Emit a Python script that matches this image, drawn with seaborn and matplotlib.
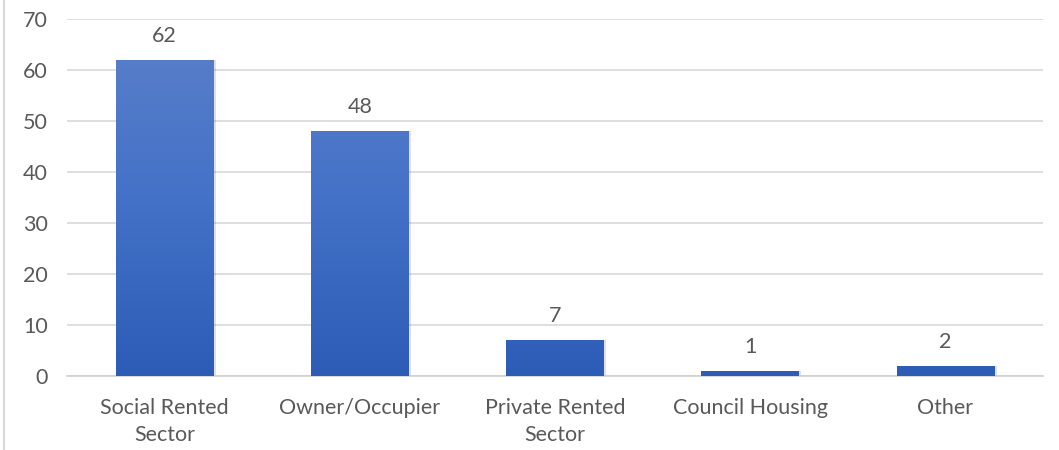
import numpy as np
import matplotlib
matplotlib.use('Agg')
import matplotlib.pyplot as plt
import seaborn as sns
from matplotlib.colors import LinearSegmentedColormap

categories = ['Social Rented\nSector', 'Owner/Occupier', 'Private Rented\nSector', 'Council Housing', 'Other']
values = [62, 48, 7, 1, 2]

sns.set_style('white')
plt.rcParams['font.family'] = ['Lato', 'DejaVu Sans']
text_col = '#595959'
fs = 15.5

fig = plt.figure(figsize=(10.59, 4.5), dpi=100)
ax = fig.add_axes([0.0633, 0.1644, 0.9217, 0.7934])

sns.barplot(x=categories, y=values, color='#4472c4', width=0.5, ax=ax, zorder=3)

ax.set_ylim(0, 70)
ax.set_yticks(range(0, 71, 10))
ax.yaxis.grid(True, color='#d9d9d9', linewidth=1.2, zorder=0)
ax.set_axisbelow(True)
for s in ['left', 'right', 'top']:
    ax.spines[s].set_visible(False)
ax.spines['bottom'].set_color('#d0d0d0')
ax.spines['bottom'].set_linewidth(1.2)
ax.tick_params(axis='both', length=0, labelsize=fs, colors=text_col)
ax.tick_params(axis='y', pad=14)
ax.tick_params(axis='x', pad=16)
for t in ax.get_xticklabels():
    t.set_linespacing(1.45)

# gradient fill clipped to each bar
grad = LinearSegmentedColormap.from_list('g', ['#2c5cb6', '#4472c8', '#5b80c9'])
for p, v in zip(ax.patches, values):
    x0, w = p.get_x(), p.get_width()
    p.set_facecolor('none')
    p.set_edgecolor('none')
    # soft shadow
    ax.add_patch(plt.Rectangle((x0 + 0.012, 0), w, v, facecolor='#000000', alpha=0.12,
                               edgecolor='none', zorder=2))
    im = ax.imshow(np.linspace(0, 1, 256).reshape(-1, 1), cmap=grad, origin='lower',
                   extent=[x0, x0 + w, 0, 70], aspect='auto', zorder=3)
    im.set_clip_path(p)
    ax.annotate(str(v), (x0 + w / 2, v), xytext=(0, 10), textcoords='offset points',
                ha='center', va='bottom', fontsize=fs, color=text_col)

ax.set_xlim(-0.5, 4.5)
ax.set_ylim(0, 70)

# chart border on the left
fig.add_artist(plt.Line2D([0.004, 0.004], [0, 1], color='#d9d9d9', linewidth=1.5))

fig.savefig('out.png', dpi=100)
